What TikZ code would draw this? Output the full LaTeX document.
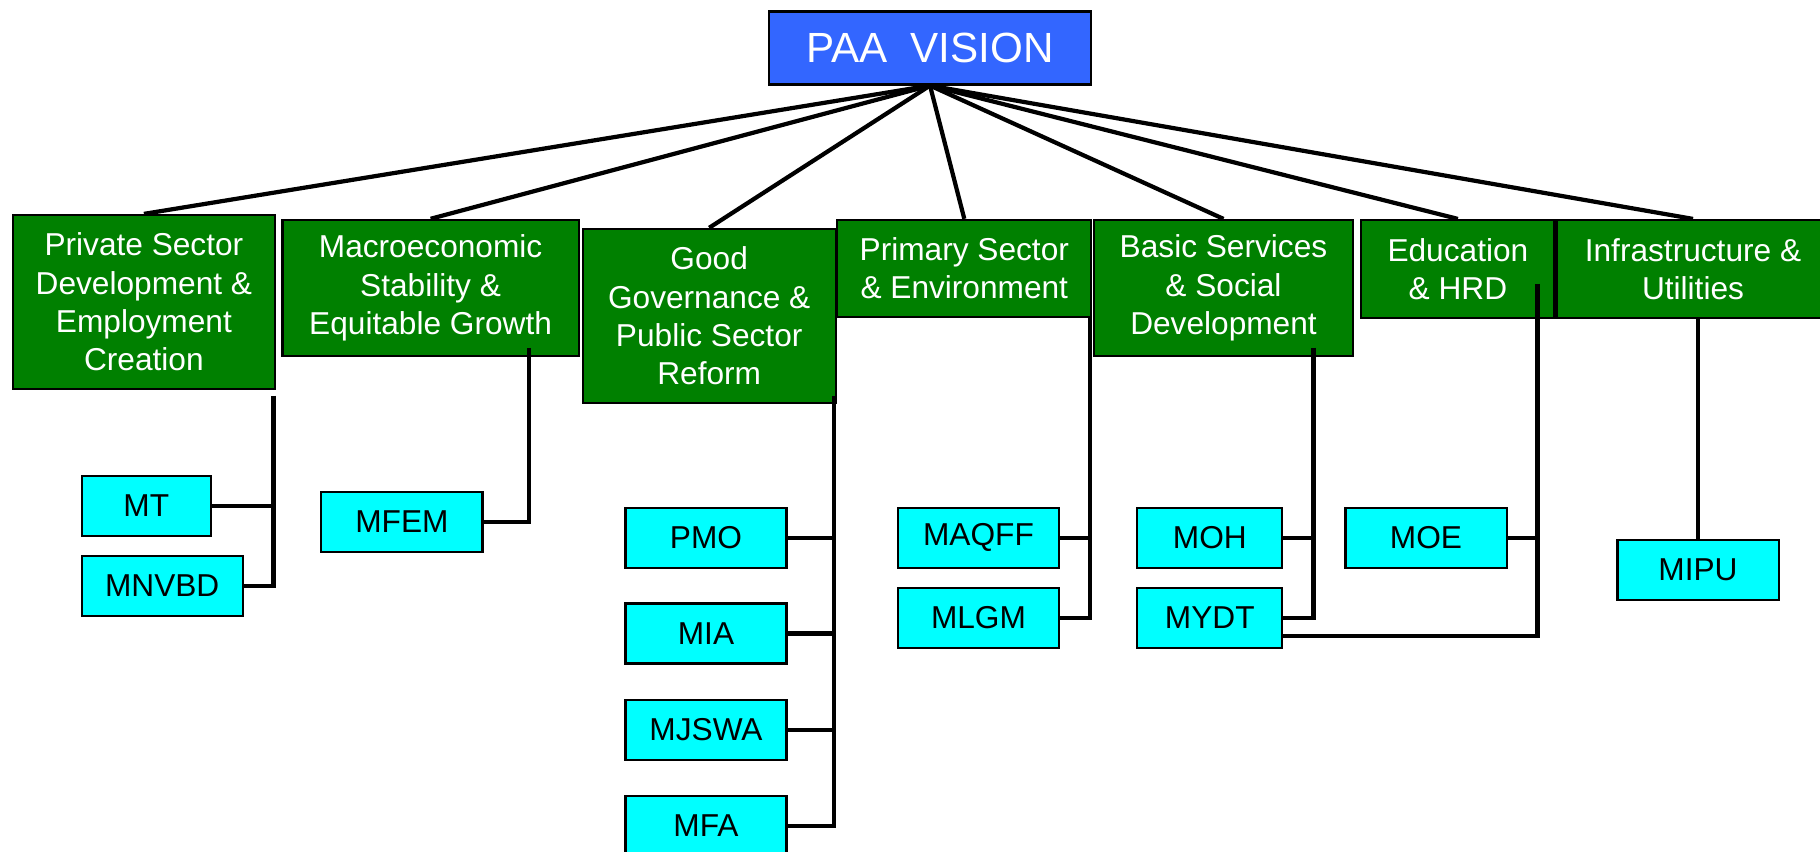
\documentclass[tikz,border=0pt]{standalone}
\usepackage{fontspec}
\setmainfont{Liberation Sans}

\definecolor{visionblue}{RGB}{51,102,255}
\definecolor{areagreen}{RGB}{0,128,0}
\definecolor{ministrycyan}{RGB}{0,255,255}

\begin{document}
\begin{tikzpicture}[x=0.01cm, y=-0.01cm,
    vision/.style ={rectangle, draw, line width=0.6pt, fill=visionblue, text=white,
      font=\fontsize{12}{14}\selectfont, minimum width=3.21cm, minimum height=0.73cm},
    area/.style ={rectangle, draw, line width=0.6pt, fill=areagreen, text=white, align=center,
      font=\fontsize{9}{10.9}\selectfont, inner sep=0pt},
    ministry/.style ={rectangle, draw, line width=0.6pt, fill=ministrycyan,
      font=\fontsize{9}{10.9}\selectfont, minimum width=1.61cm, minimum height=0.6cm, inner sep=0pt},
    link/.style ={line width=1.2pt}]
   \useasboundingbox (0,0) rectangle (1820,852);
   % vision
   \node[vision] (PAA) at (930,48) {PAA\ \ VISION};
   % priority areas
   \node[area, minimum width=2.62cm, minimum height=1.74cm] (PS) at (143.9,302)
     {Private Sector\\Development \&\\Employment\\Creation};
   \node[area, minimum width=2.96cm, minimum height=1.36cm] (ME) at (430.6,287.9)
     {Macroeconomic\\Stability \&\\Equitable Growth};
   \node[area, minimum width=2.53cm, minimum height=1.74cm] (GG) at (709.2,315.9)
     {Good\\Governance \&\\Public Sector\\Reform};
   \node[area, minimum width=2.54cm, minimum height=0.97cm] (PR) at (964.3,268.4)
     {Primary Sector\\\& Environment};
   \node[area, minimum width=2.58cm, minimum height=1.36cm] (BS) at (1223.5,288)
     {Basic Services\\\& Social\\Development};
   \node[area, minimum width=1.93cm, minimum height=0.98cm] (ED) at (1457.9,269)
     {Education\\\& HRD};
   \node[area, minimum width=2.72cm, minimum height=0.98cm] (IU) at (1693,269)
     {Infrastructure \&\\Utilities};
   % ministries
   \node[ministry, minimum width=1.29cm] (MT) at (146.3,505.9) {MT};
   \node[ministry] (MNVBD) at (162.2,585.9) {MNVBD};
   \node[ministry] (MFEM) at (401.9,521.7) {MFEM};
   \node[ministry] (PMO) at (706,537.7) {PMO};
   \node[ministry] (MIA) at (706,633.5) {MIA};
   \node[ministry] (MJSWA) at (706,729.8) {MJSWA};
   \node[ministry] (MFA) at (706,826) {MFA};
   \node[ministry] (MAQFF) at (978.5,537.7) {MAQFF};
   \node[ministry] (MLGM) at (978.5,617.8) {MLGM};
   \node[ministry, minimum width=1.45cm] (MOH) at (1209.8,537.7) {MOH};
   \node[ministry, minimum width=1.45cm] (MYDT) at (1209.8,617.8) {MYDT};
   \node[ministry] (MOE) at (1426,537.7) {MOE};
   \node[ministry] (MIPU) at (1698,569.8) {MIPU};
   % vision to areas
   \draw[link] (PAA.south) to (PS.north);
   \draw[link] (PAA.south) to (ME.north);
   \draw[link] (PAA.south) to (GG.north);
   \draw[link] (PAA.south) to (PR.north);
   \draw[link] (PAA.south) to (BS.north);
   \draw[link] (PAA.south) to (ED.north);
   \draw[link] (PAA.south) to (IU.north);
   % areas to ministries
   \coordinate (PStop) at (273.4,396);
   \coordinate (MEtop) at (529.3,348);
   \coordinate (GGtop) at (834,396);
   \coordinate (PRtop) at (1090,316.7);
   \coordinate (BStop) at (1313.4,348);
   \coordinate (EDtop) at (1537.4,284);
   \draw[link] (PStop) |- (MT);
   \draw[link] (PStop) |- (MNVBD);
   \draw[link] (MEtop) |- (MFEM);
   \draw[link] (GGtop) |- (PMO);
   \draw[link] (GGtop) |- (MIA);
   \draw[link] (GGtop) |- (MJSWA);
   \draw[link] (GGtop) |- (MFA);
   \draw[link] (PRtop) |- (MAQFF);
   \draw[link] (PRtop) |- (MLGM);
   \draw[link] (BStop) |- (MOH);
   \draw[link] (BStop) |- (MYDT);
   \draw[link] (EDtop) |- (MOE);
   \draw[link] (EDtop) |- ([yshift=-0.18cm]MYDT.east);
   \draw[link] (IU.south -| MIPU.north) to (MIPU);
\end{tikzpicture}
\end{document}
